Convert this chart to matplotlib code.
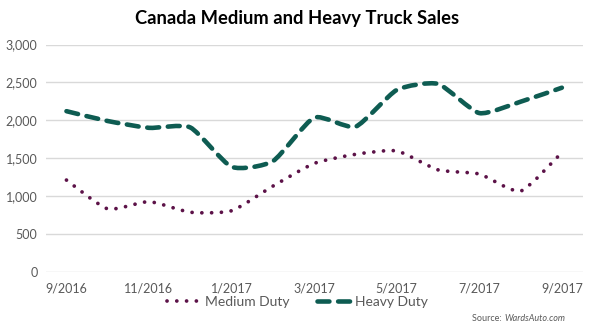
import numpy as np
import matplotlib
matplotlib.use("Agg")
import matplotlib.pyplot as plt
from matplotlib.path import Path
from matplotlib.patches import PathPatch
from matplotlib.lines import Line2D

plt.rcParams['font.family'] = ['Lato', 'DejaVu Sans']

months = ["9/2016", "10/2016", "11/2016", "12/2016", "1/2017", "2/2017", "3/2017",
          "4/2017", "5/2017", "6/2017", "7/2017", "8/2017", "9/2017"]
medium = [1210, 830, 925, 785, 805, 1130, 1430, 1550, 1595, 1345, 1290, 1065, 1575]
heavy = [2120, 1990, 1900, 1905, 1385, 1460, 2035, 1915, 2400, 2480, 2095, 2245, 2430]

MED_C = "#5c1248"
HEAVY_C = "#0e5c52"
GRID_C = "#d9d9d9"
TEXT_C = "#595959"


def smooth_path(xs, ys, k=10.0):
    # lightly smoothed line: cubic bezier segments through the points
    p = np.column_stack([xs, ys]).astype(float)
    n = len(p)
    verts = [p[0]]
    codes = [Path.MOVETO]
    for i in range(n - 1):
        p0 = p[i - 1] if i > 0 else p[i]
        p3 = p[i + 2] if i + 2 < n else p[i + 1]
        c1 = p[i] + (p[i + 1] - p0) / k
        c2 = p[i + 1] - (p3 - p[i]) / k
        verts += [c1, c2, p[i + 1]]
        codes += [Path.CURVE4] * 3
    return Path(verts, codes)


fig = plt.figure(figsize=(5.95, 3.35), dpi=100)
ax = fig.add_axes([0.077, 0.189, 0.902, 0.678])

x = np.arange(len(months))
med_ls = (0, (0.01, 2.6))
heavy_ls = (0, (2.6, 1.9))
ax.add_patch(PathPatch(smooth_path(x, medium), fill=False, color=MED_C, lw=2.7,
                       linestyle=med_ls, capstyle='round'))
ax.add_patch(PathPatch(smooth_path(x, heavy), fill=False, color=HEAVY_C, lw=3.3,
                       linestyle=heavy_ls, capstyle='round'))

ax.set_xlim(-0.5, len(months) - 0.5)
ax.set_ylim(0, 3000)
ax.set_yticks(range(0, 3001, 500))
ax.set_yticklabels([f"{v:,}" for v in range(0, 3001, 500)])
ax.set_xticks(x[::2])
ax.set_xticklabels(months[::2])
ax.tick_params(axis='both', length=0, labelsize=9, colors=TEXT_C)
ax.tick_params(axis='x', pad=8)
ax.tick_params(axis='y', pad=6)
ax.grid(axis='y', color=GRID_C, lw=1)
ax.set_axisbelow(True)
for s in ax.spines.values():
    s.set_visible(False)

fig.text(0.5, 0.945, "Canada Medium and Heavy Truck Sales", ha='center', va='center',
         fontsize=13.2, fontweight='bold', color='black')

handles = [
    Line2D([], [], color=MED_C, lw=2.7, linestyle=med_ls, dash_capstyle='round'),
    Line2D([], [], color=HEAVY_C, lw=3.3, linestyle=heavy_ls, dash_capstyle='round'),
]
fig.legend(handles, ["Medium Duty", "Heavy Duty"], loc='center', bbox_to_anchor=(0.5, 0.1),
           ncol=2, frameon=False, fontsize=10, labelcolor=TEXT_C, handlelength=2.4,
           handletextpad=0.3, columnspacing=2.0)

src = fig.text(0.95, 0.05, "WardsAuto.com", ha='right', va='center', fontsize=6.5,
               style='italic', color=TEXT_C)
fig.canvas.draw()
bb = src.get_window_extent().transformed(fig.transFigure.inverted())
fig.text(bb.x0, 0.05, "Source: ", ha='right', va='center', fontsize=6.5, color=TEXT_C)

fig.savefig("out.png", dpi=100)
